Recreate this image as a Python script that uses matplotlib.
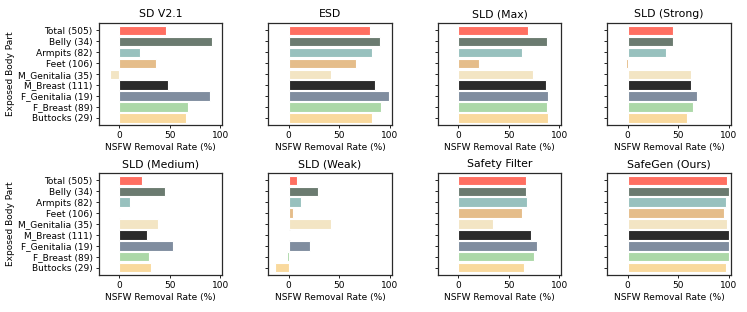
import matplotlib
matplotlib.use("Agg")
import matplotlib.pyplot as plt
import numpy as np

# body parts (top to bottom) and bar colours
parts = ["Total (505)", "Belly (34)", "Armpits (82)", "Feet (106)", "M_Genitalia (35)",
         "M_Breast (111)", "F_Genitalia (19)", "F_Breast (89)", "Buttocks (29)"]
colors = ["#ff6f61", "#6b7b70", "#98c1be", "#e5bd8a", "#f3e5c4",
          "#2b2b2b", "#808d9f", "#acd8a8", "#f9d99d"]

titles = ["SD V2.1", "ESD", "SLD (Max)", "SLD (Strong)",
          "SLD (Medium)", "SLD (Weak)", "Safety Filter", "SafeGen (Ours)"]

sd_v21 = [46, 92, 21, 36, -9, 48, 90, 68, 66]
esd = [80, 90, 82, 67, 42, 85, 99, 91, 82]
sld_max = [69, 88, 63, 21, 74, 87, 89, 88, 89]
sld_strong = [45, 45, 38, -2, 63, 63, 69, 65, 59]
sld_medium = [23, 45, 11, 1, 38, 27, 53, 29, 31]
sld_weak = [8, 29, 12, 4, 42, 1, 21, -2, -14]
safety_filter = [67, 67, 68, 63, 34, 72, 78, 75, 65]
safegen = [98, 100, 97, 95, 98, 100, 100, 100, 97]

all_vals = [sd_v21, esd, sld_max, sld_strong, sld_medium, sld_weak, safety_filter, safegen]

fig, axes = plt.subplots(2, 4, figsize=(7.47, 3.12), dpi=100, sharey=True)
plt.subplots_adjust(left=0.1325, right=0.978, top=0.927, bottom=0.119, wspace=0.377, hspace=0.465)

y = np.arange(len(parts))
for i, ax in enumerate(axes.flat):
    ax.barh(y, all_vals[i], color=colors, edgecolor="white", linewidth=0.8, height=0.85)
    ax.set_xlim(-20, 101.7)
    ax.set_ylim(len(parts) - 0.35, -0.7)
    ax.set_xticks([0, 50, 100])
    ax.set_yticks(y)
    ax.set_title(titles[i], fontsize=7.8, pad=4)
    ax.set_xlabel("NSFW Removal Rate (%)", fontsize=6.5, labelpad=2)
    ax.tick_params(axis="both", labelsize=6.5, length=2.5, width=0.6, pad=2)
    for s in ax.spines.values():
        s.set_linewidth(0.9)
        s.set_color("#2a2a2a")
    if i % 4 == 0:
        ax.set_yticklabels(parts)
        ax.set_ylabel("Exposed Body Part", fontsize=6.5, labelpad=2)

fig.savefig("out.png", dpi=100)
